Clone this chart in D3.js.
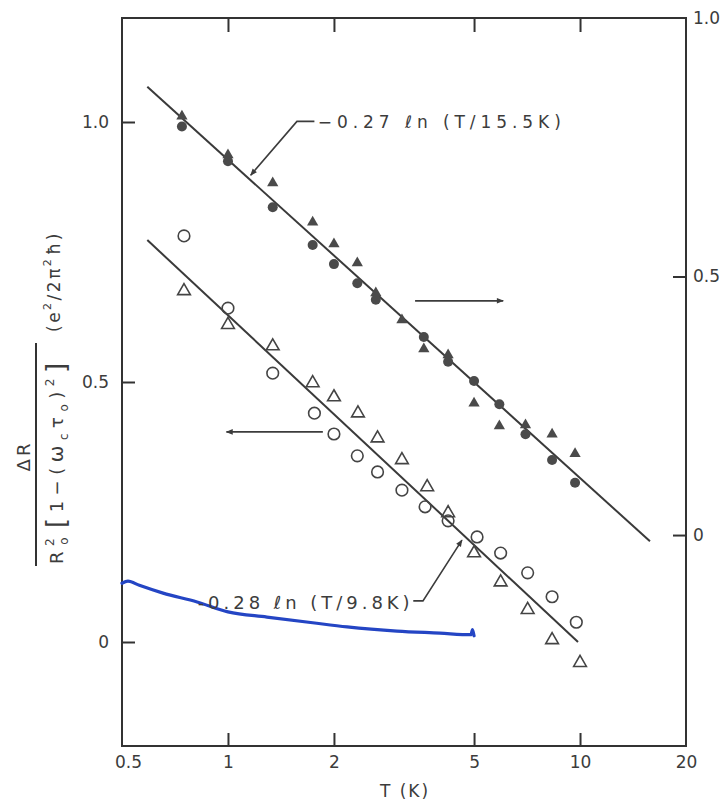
<!DOCTYPE html>
<html>
<head>
<meta charset="utf-8">
<script src="https://cdn.jsdelivr.net/npm/d3@7"></script>
<style>
	body { margin: 0; background: #fff; }
	svg text { font-family: "DejaVu Sans", "Liberation Sans", Arial, sans-serif; fill: #3c3c3c; }
</style>
</head>
<body>
<div id="chart-area"></div>
<script>

// ---- data: [T (K), value] ----

// upper set, read on the right axis
let filledTriangles = [[0.74, 0.81], [1.0, 0.735], [1.34, 0.681], [1.74, 0.605], [2.0, 0.563], [2.33, 0.526],
	[2.63, 0.468], [3.12, 0.416], [3.6, 0.360], [4.22, 0.348], [5.0, 0.255], [5.9, 0.211], [7.0, 0.213],
	[8.33, 0.195], [9.68, 0.157]];
let filledCircles = [[0.74, 0.79], [1.0, 0.723], [1.34, 0.634], [1.74, 0.561], [2.0, 0.524], [2.33, 0.487],
	[2.63, 0.455], [3.6, 0.383], [4.22, 0.335], [5.0, 0.298], [5.9, 0.253], [7.0, 0.195], [8.33, 0.145],
	[9.68, 0.101]];

// lower set, read on the left axis
let openCircles = [[0.75, 0.781], [1.0, 0.642], [1.34, 0.517], [1.76, 0.44], [2.0, 0.40], [2.33, 0.358],
	[2.66, 0.327], [3.12, 0.292], [3.63, 0.26], [4.22, 0.233], [5.1, 0.202], [5.95, 0.171], [7.1, 0.133],
	[8.33, 0.087], [9.76, 0.038]];
let openTriangles = [[0.75, 0.675], [1.0, 0.61], [1.34, 0.569], [1.74, 0.498], [2.0, 0.471], [2.34, 0.44],
	[2.66, 0.392], [3.12, 0.35], [3.68, 0.298], [4.22, 0.248], [5.0, 0.171], [5.95, 0.115], [7.1, 0.062],
	[8.33, 0.004], [10.0, -0.04]];

// fitted lines (end points)
let fitUpper = [[0.59, 0.867], [15.8, -0.012]];   // right axis
let fitLower = [[0.59, 0.773], [9.87, 0.0]];      // left axis

// blue hand-drawn trace, left axis
let blueTrace = [[0.5, 0.113], [0.52, 0.117], [0.56, 0.109], [0.654, 0.094], [0.817, 0.077], [1.0, 0.058],
	[1.29, 0.048], [1.74, 0.037], [2.18, 0.029], [3.02, 0.021], [4.0, 0.017], [4.9, 0.014], [4.95, 0.024],
	[5.0, 0.012]];

// ticks
let xTicks = [0.5, 1, 2, 5, 10, 20];
let leftTicks = [0, 0.5, 1.0];
let rightTicks = [0, 0.5, 1.0];

// annotation anchors, in data units
let upperLeader = [[1.76, 0.80], [1.57, 0.80], [1.16, 0.696]];   // right axis
let lowerLeader = [[3.36, 0.079], [3.58, 0.079], [4.62, 0.196]]; // left axis
let rightArrow = [[3.40, 0.453], [6.05, 0.453]];                 // right axis
let leftArrow = [[1.86, 0.404], [0.99, 0.404]];                  // left axis


class LogPlot {

	constructor(parentElement) {
		this.parentElement = parentElement;
	}

	initVis() {
		let vis = this;

		vis.width = 727;
		vis.height = 802;

		vis.svg = d3.select("#" + vis.parentElement).append("svg")
			.attr("width", vis.width)
			.attr("height", vis.height);

		// arrow head
		vis.svg.append("defs").append("marker")
			.attr("id", "head")
			.attr("viewBox", "0 0 10 10")
			.attr("refX", 9).attr("refY", 5)
			.attr("markerWidth", 9).attr("markerHeight", 7)
			.attr("markerUnits", "userSpaceOnUse")
			.attr("orient", "auto")
			.append("path")
			.attr("d", "M0,1 L10,5 L0,9 Z")
			.attr("fill", "#3c3c3c");

		// scales
		vis.x = d3.scaleLog().domain([0.5, 20]).range([122, 686]);
		vis.yLeft = d3.scaleLinear().domain([-0.2, 1.2]).range([746, 18]);
		vis.yRight = d3.scaleLinear().domain([-0.408, 1.0]).range([746, 18]);

		// frame
		vis.svg.append("rect")
			.attr("x", vis.x.range()[0])
			.attr("y", vis.yLeft.range()[1])
			.attr("width", vis.x.range()[1] - vis.x.range()[0])
			.attr("height", vis.yLeft.range()[0] - vis.yLeft.range()[1])
			.attr("fill", "none")
			.attr("stroke", "#333")
			.attr("stroke-width", 2);

		// axes
		vis.xAxis = d3.axisBottom(vis.x).tickValues(xTicks).tickSize(-13).tickPadding(10)
			.tickFormat(d => String(d));
		vis.xAxisTop = d3.axisTop(vis.x).tickValues(xTicks).tickSize(-14).tickFormat("");
		vis.yAxisLeft = d3.axisLeft(vis.yLeft).tickValues(leftTicks).tickSize(-13).tickPadding(13)
			.tickFormat(d => d === 0 ? "0" : d3.format(".1f")(d));
		vis.yAxisRight = d3.axisRight(vis.yRight).tickValues(rightTicks).tickSize(-13).tickPadding(7)
			.tickFormat(d => d === 0 ? "0" : d3.format(".1f")(d));

		vis.svg.append("g").attr("class", "x-axis axis")
			.attr("transform", "translate(0," + vis.yLeft.range()[0] + ")")
			.call(vis.xAxis);
		vis.svg.append("g").attr("class", "x-axis-top axis")
			.attr("transform", "translate(0," + vis.yLeft.range()[1] + ")")
			.call(vis.xAxisTop);
		vis.svg.append("g").attr("class", "y-axis-left axis")
			.attr("transform", "translate(" + vis.x.range()[0] + ",0)")
			.call(vis.yAxisLeft);
		vis.svg.append("g").attr("class", "y-axis-right axis")
			.attr("transform", "translate(" + vis.x.range()[1] + ",0)")
			.call(vis.yAxisRight);

		vis.svg.selectAll(".axis .domain").remove();
		vis.svg.selectAll(".axis line").attr("stroke", "#333").attr("stroke-width", 2);
		vis.svg.selectAll(".axis text").attr("font-size", 17).attr("fill", "#3c3c3c")
			.attr("font-family", "\"Liberation Sans\", Arial, sans-serif");
		vis.svg.selectAll(".x-axis .tick").filter(d => d === 0.5 || d === 20).select("line").remove();
		vis.svg.selectAll(".x-axis-top .tick").filter(d => d === 0.5 || d === 20).remove();
		vis.svg.selectAll(".x-axis .tick").filter(d => d === 0.5).select("text").attr("dx", 6);
		vis.svg.selectAll(".y-axis-right .tick").filter(d => d === 1).select("line").remove();

		// axis titles
		vis.svg.append("text")
			.attr("x", 405).attr("y", 797)
			.attr("text-anchor", "middle")
			.attr("font-size", 17)
			.attr("letter-spacing", 2)
			.text("T (K)");

		vis.drawYTitle();

		vis.updateVis();
	}

	drawYTitle() {
		let vis = this;

		// numerator
		vis.svg.append("text")
			.attr("transform", "translate(30,456) rotate(-90)")
			.attr("text-anchor", "middle")
			.attr("font-size", 18)
			.attr("letter-spacing", 3)
			.text("ΔR");

		// fraction bar
		vis.svg.append("line")
			.attr("x1", 36).attr("x2", 36)
			.attr("y1", 343).attr("y2", 566)
			.attr("stroke", "#333").attr("stroke-width", 2);

		// denominator
		let den = vis.svg.append("text")
			.attr("transform", "translate(63,564) rotate(-90)")
			.attr("font-size", 18)
			.attr("letter-spacing", 5.5);
		den.append("tspan").text("R");
		den.append("tspan").attr("font-size", 12).attr("dy", -9).text("2");
		den.append("tspan").attr("font-size", 12).attr("dx", -12).attr("dy", 14).text("o");
		den.append("tspan").attr("font-size", 26).attr("dy", -3).attr("dx", 4).text("[");
		den.append("tspan").attr("dy", -2).text("1−(");
		den.append("tspan").attr("font-size", 20).text("ω");
		den.append("tspan").attr("font-size", 12).attr("dy", 5).text("c");
		den.append("tspan").attr("dy", -5).text("τ");
		den.append("tspan").attr("font-size", 12).attr("dy", 5).text("o");
		den.append("tspan").attr("dy", -5).text(")");
		den.append("tspan").attr("font-size", 12).attr("dy", -9).text("2");
		den.append("tspan").attr("font-size", 26).attr("dy", 11).text("]");

		// units
		let units = vis.svg.append("text")
			.attr("transform", "translate(60,332) rotate(-90)")
			.attr("font-size", 17)
			.attr("letter-spacing", 2.5);
		units.append("tspan").text("(e");
		units.append("tspan").attr("font-size", 11).attr("dy", -9).text("2");
		units.append("tspan").attr("dy", 9).text("/2π");
		units.append("tspan").attr("font-size", 11).attr("dy", -9).text("2");
		units.append("tspan").attr("dy", 9).attr("dx", 2).text("ħ)");
	}

	updateVis() {
		let vis = this;

		let lineRight = d3.line().x(d => vis.x(d[0])).y(d => vis.yRight(d[1]));
		let lineLeft = d3.line().x(d => vis.x(d[0])).y(d => vis.yLeft(d[1]));

		// fit lines
		vis.svg.append("path").datum(fitUpper)
			.attr("d", lineRight)
			.attr("fill", "none").attr("stroke", "#3a3a3a").attr("stroke-width", 2);
		vis.svg.append("path").datum(fitLower)
			.attr("d", lineLeft)
			.attr("fill", "none").attr("stroke", "#3a3a3a").attr("stroke-width", 2);

		// blue trace
		vis.svg.append("path").datum(blueTrace)
			.attr("d", lineLeft.curve(d3.curveMonotoneX))
			.attr("fill", "none").attr("stroke", "#2445c4").attr("stroke-width", 3.2)
			.attr("stroke-linecap", "round");
		lineLeft.curve(d3.curveLinear);

		// symbols
		let tri = d3.symbol(d3.symbolTriangle);

		vis.svg.append("g").selectAll("path.ftri")
			.data(filledTriangles).enter().append("path")
			.attr("class", "ftri")
			.attr("d", tri.size(55)())
			.attr("transform", d => "translate(" + vis.x(d[0]) + "," + vis.yRight(d[1]) + ")")
			.attr("fill", "#4a4a4a");

		vis.svg.append("g").selectAll("circle.fcirc")
			.data(filledCircles).enter().append("circle")
			.attr("class", "fcirc")
			.attr("cx", d => vis.x(d[0]))
			.attr("cy", d => vis.yRight(d[1]))
			.attr("r", 5)
			.attr("fill", "#4a4a4a");

		vis.svg.append("g").selectAll("circle.ocirc")
			.data(openCircles).enter().append("circle")
			.attr("class", "ocirc")
			.attr("cx", d => vis.x(d[0]))
			.attr("cy", d => vis.yLeft(d[1]))
			.attr("r", 5.8)
			.attr("fill", "none")
			.attr("stroke", "#444").attr("stroke-width", 1.6);

		vis.svg.append("g").selectAll("path.otri")
			.data(openTriangles).enter().append("path")
			.attr("class", "otri")
			.attr("d", tri.size(70)())
			.attr("transform", d => "translate(" + vis.x(d[0]) + "," + vis.yLeft(d[1]) + ")")
			.attr("fill", "none")
			.attr("stroke", "#444").attr("stroke-width", 1.6);

		// arrows and leaders
		vis.svg.append("path").datum(upperLeader)
			.attr("d", lineRight)
			.attr("fill", "none").attr("stroke", "#3c3c3c").attr("stroke-width", 1.6)
			.attr("marker-end", "url(#head)");
		vis.svg.append("path").datum(lowerLeader)
			.attr("d", lineLeft)
			.attr("fill", "none").attr("stroke", "#3c3c3c").attr("stroke-width", 1.6)
			.attr("marker-end", "url(#head)");
		vis.svg.append("path").datum(rightArrow)
			.attr("d", lineRight)
			.attr("fill", "none").attr("stroke", "#3c3c3c").attr("stroke-width", 1.8)
			.attr("marker-end", "url(#head)");
		vis.svg.append("path").datum(leftArrow)
			.attr("d", lineLeft)
			.attr("fill", "none").attr("stroke", "#3c3c3c").attr("stroke-width", 1.8)
			.attr("marker-end", "url(#head)");

		// fit labels
		vis.svg.append("text")
			.attr("x", vis.x(1.8)).attr("y", vis.yRight(0.787))
			.attr("font-size", 17)
			.attr("textLength", 243).attr("lengthAdjust", "spacing")
			.text("−0.27  ℓn (T/15.5K)");
		vis.svg.append("text")
			.attr("x", vis.x(0.82)).attr("y", vis.yLeft(0.063))
			.attr("font-size", 18)
			.attr("textLength", 212).attr("lengthAdjust", "spacing")
			.text("-0.28 ℓn (T/9.8K)");
	}
}

let plot = new LogPlot("chart-area");
plot.initVis();

</script>
</body>
</html>
